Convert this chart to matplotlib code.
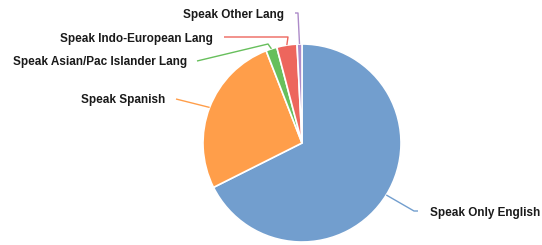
import numpy as np
import matplotlib
matplotlib.use("Agg")
import matplotlib.pyplot as plt

# share of population by language spoken at home (percent)
labels = ["Speak Only English", "Speak Spanish", "Speak Asian/Pac Islander Lang",
          "Speak Indo-European Lang", "Speak Other Lang"]
shares = [67.6, 26.5, 1.8, 3.3, 0.8]
colors = ["#729ECE", "#FF9E4A", "#67BF5C", "#ED665D", "#AD8BC9"]

W, H = 542, 245
CX, CY, R = 302, 245 - 143, 99

# label layout in pixel coords (image y measured from top)
# (text x, text y, alignment, leader elbow or None, leader start)
layout = {
    "Speak Only English": (430, 213, "left", (418, 211), None),
    "Speak Spanish": (165, 100, "right", None, (176, 99)),
    "Speak Asian/Pac Islander Lang": (187, 62, "right", (268, 44), (197, 61)),
    "Speak Indo-European Lang": (213, 39, "right", (288, 37), (224, 37)),
    "Speak Other Lang": (284, 15, "right", (298, 13), (295, 13)),
}

fig = plt.figure(figsize=(W / 100, H / 100), dpi=100)
ax = fig.add_axes([0, 0, 1, 1])

wedges, _ = ax.pie(shares, colors=colors, startangle=90, counterclock=False,
                   center=(CX, CY), radius=R,
                   wedgeprops=dict(edgecolor="white", linewidth=1.2))
ax.set_xlim(0, W)
ax.set_ylim(0, H)
ax.set_aspect("equal")
ax.axis("off")

for w, lab, col in zip(wedges, labels, colors):
    mid = np.deg2rad((w.theta1 + w.theta2) / 2)
    ex, ey = CX + R * np.cos(mid), CY + R * np.sin(mid)
    tx, ty, ha, elbow, start = layout[lab]
    pts = []
    if ha == "left":
        pts = [(ex, ey), (elbow[0] - 4, H - elbow[1]), (elbow[0], H - elbow[1])]
    else:
        pts = [(start[0], H - start[1])]
        if elbow is not None:
            pts.append((elbow[0], H - elbow[1]))
        pts.append((ex, ey))
    xs, ys = zip(*pts)
    ax.plot(xs, ys, color=col, lw=1, solid_capstyle="butt")
    ax.text(tx, H - ty, lab, ha=ha, va="center", fontsize=8.5,
            fontweight="bold", family="Liberation Sans", color="#1a1a1a")

fig.savefig("out.png", dpi=100)
